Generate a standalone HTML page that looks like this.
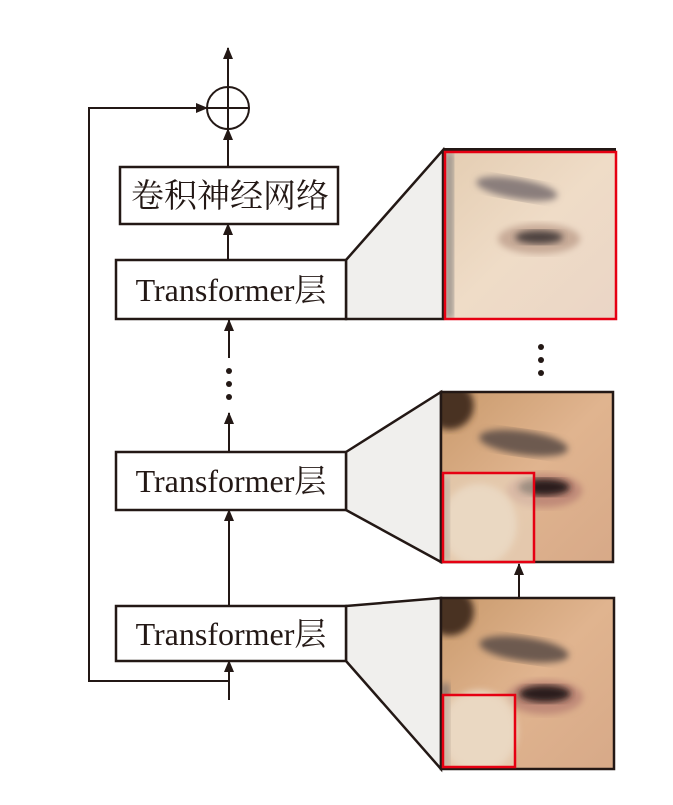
<!DOCTYPE html>
<html><head><meta charset="utf-8"><style>
body{margin:0;background:#fff;}
svg{display:block;}
text{font-family:"Liberation Serif","Noto Serif CJK SC",serif;fill:#231815;}
</style></head><body>
<svg width="673" height="805" viewBox="0 0 673 805" xmlns="http://www.w3.org/2000/svg">
<defs>
<marker id="ah" markerWidth="12" markerHeight="10" refX="11" refY="5" orient="auto" markerUnits="userSpaceOnUse" viewBox="0 0 12 10">
<path d="M0,0 L12,5 L0,10 Z" fill="#231815"/></marker>
<linearGradient id="sk" x1="0" y1="0" x2="1" y2="1">
<stop offset="0" stop-color="#c99a6c"/><stop offset="0.5" stop-color="#e0b48f"/><stop offset="1" stop-color="#d7a988"/></linearGradient>
<linearGradient id="sk2" x1="0" y1="0" x2="1" y2="1">
<stop offset="0" stop-color="#e4cdb2"/><stop offset="0.5" stop-color="#efdcc7"/><stop offset="1" stop-color="#ead5c6"/></linearGradient>
<filter id="bl"><feGaussianBlur stdDeviation="2"/></filter>
<symbol id="face" viewBox="0 0 100 100" preserveAspectRatio="none">
<rect width="100" height="100" fill="url(#sk)"/>
<ellipse cx="5" cy="8" rx="14" ry="14" fill="#4a3020" filter="url(#bl)"/>
<ellipse cx="48" cy="30" rx="26" ry="7" fill="#6d5a50" filter="url(#bl)" transform="rotate(8 48 30)"/>
<ellipse cx="60" cy="58" rx="22" ry="10" fill="#c08a78" filter="url(#bl)"/>
<ellipse cx="60" cy="56" rx="15" ry="5" fill="#2a1e1e" filter="url(#bl)"/>
<ellipse cx="22" cy="78" rx="22" ry="24" fill="#ead6c0" filter="url(#bl)"/>
<rect x="0" y="50" width="5" height="50" fill="#8e7a70" filter="url(#bl)"/>
</symbol>
<symbol id="face2" viewBox="0 0 100 100" preserveAspectRatio="none">
<rect width="100" height="100" fill="url(#sk2)"/>
<ellipse cx="42" cy="22" rx="24" ry="6" fill="#8a7e7c" filter="url(#bl)" transform="rotate(10 42 22)"/>
<ellipse cx="55" cy="52" rx="24" ry="9" fill="#c8ab98" filter="url(#bl)"/>
<ellipse cx="55" cy="51" rx="14" ry="4" fill="#4e4240" filter="url(#bl)"/>
<rect x="0" y="0" width="5" height="100" fill="#9c948e" filter="url(#bl)"/>
</symbol>
</defs>
<g stroke="#231815" stroke-width="2.5" fill="none">
<path d="M346,260 L443,150 L443,319 L346,319 Z" fill="#f0efed"/>
<path d="M346,452 L441,392 L441,562 L346,510 Z" fill="#f0efed"/>
<path d="M346,606 L441,598 L441,769 L346,661 Z" fill="#f0efed"/>
</g>
<rect x="443" y="148" width="173" height="170" fill="#231815"/>
<use href="#face2" x="445" y="152" width="171" height="167"/>
<rect x="445" y="152" width="171" height="167" fill="none" stroke="#e60012" stroke-width="2.5"/>
<use href="#face" x="441" y="392" width="172" height="170"/>
<rect x="441" y="392" width="172" height="170" fill="none" stroke="#231815" stroke-width="2.5"/>
<rect x="443" y="473" width="91" height="89" fill="#ead8c3" opacity="0.6"/>
<rect x="443" y="473" width="91" height="89" fill="none" stroke="#e60012" stroke-width="2.5"/>
<use href="#face" x="441" y="598" width="173" height="171"/>
<rect x="441" y="598" width="173" height="171" fill="none" stroke="#231815" stroke-width="2.5"/>
<rect x="443" y="695" width="72" height="72" fill="#ead8c3" opacity="0.6"/>
<rect x="443" y="695" width="72" height="72" fill="none" stroke="#e60012" stroke-width="2.5"/>
<line x1="519" y1="598" x2="519" y2="564" stroke="#231815" stroke-width="2" marker-end="url(#ah)"/>
<circle cx="541" cy="347" r="3" fill="#231815"/><circle cx="541" cy="360" r="3" fill="#231815"/><circle cx="541" cy="373" r="3" fill="#231815"/>
<g stroke="#231815" stroke-width="2.5" fill="#fff">
<rect x="120" y="167" width="218" height="57"/>
<rect x="116" y="260" width="230" height="59"/>
<rect x="116" y="452" width="230" height="58"/>
<rect x="116" y="606" width="230" height="55"/>
</g>
<text x="230" y="207" font-size="33" text-anchor="middle">卷积神经网络</text>
<text x="231" y="301" font-size="32" text-anchor="middle">Transformer层</text>
<text x="231" y="492" font-size="32" text-anchor="middle">Transformer层</text>
<text x="231" y="645" font-size="32" text-anchor="middle">Transformer层</text>
<g stroke="#231815" stroke-width="2" fill="none">
<circle cx="228" cy="108" r="21"/>
<line x1="207" y1="108" x2="249" y2="108"/>
<line x1="228" y1="87" x2="228" y2="129"/>
<line x1="228" y1="87" x2="228" y2="48" marker-end="url(#ah)"/>
<line x1="228" y1="167" x2="228" y2="129" marker-end="url(#ah)"/>
<line x1="228" y1="260" x2="228" y2="224" marker-end="url(#ah)"/>
<line x1="229" y1="358" x2="229" y2="320" marker-end="url(#ah)"/>
<line x1="229" y1="451" x2="229" y2="413" marker-end="url(#ah)"/>
<line x1="229" y1="606" x2="229" y2="510" marker-end="url(#ah)"/>
<line x1="229" y1="700" x2="229" y2="661" marker-end="url(#ah)"/>
<polyline points="229,681 89,681 89,108 207,108" marker-end="url(#ah)"/>
</g>
<circle cx="229" cy="371" r="3" fill="#231815"/><circle cx="229" cy="384" r="3" fill="#231815"/><circle cx="229" cy="397" r="3" fill="#231815"/>
</svg>
</body></html>
